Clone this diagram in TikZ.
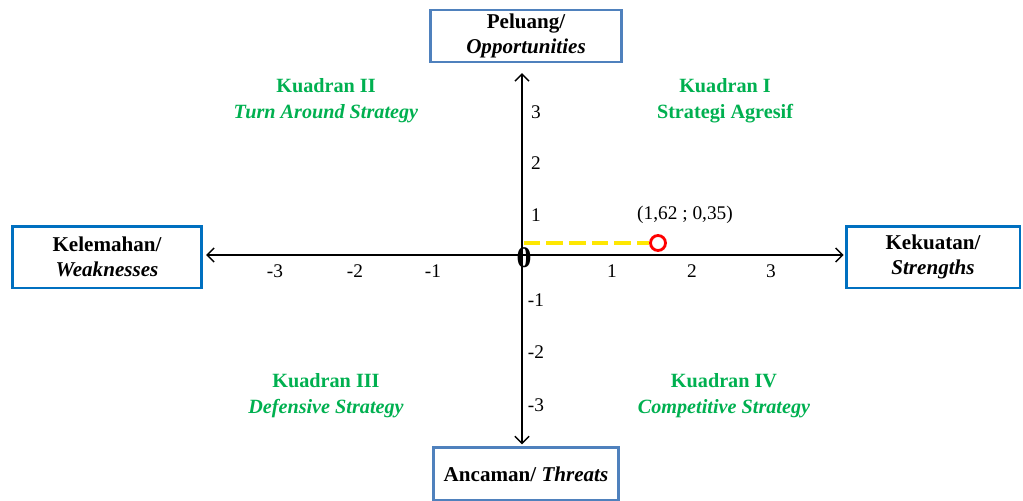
\documentclass[tikz,border=0pt]{standalone}
\usepackage{fontspec}
\setmainfont{Liberation Serif}
\usetikzlibrary{arrows.meta}
\definecolor{kgreen}{RGB}{0,176,80}
\definecolor{boxblue}{RGB}{79,129,189}
\definecolor{sideblue}{RGB}{0,112,192}
\tikzset{
  sbox/.style={draw=boxblue, line width=1.7pt, fill=white, align=center,
    font=\fontsize{12}{14}\selectfont\bfseries, inner sep=0pt},
  axis/.style={thick, {Straight Barb[length=4pt,width=8pt]}-{Straight Barb[length=4pt,width=8pt]}},
  kuad/.style={kgreen, align=center, font=\fontsize{11.5}{14.8}\selectfont\bfseries},
  tick/.style={font=\fontsize{11}{13}\selectfont}
}
\begin{document}
\begin{tikzpicture}[x=0.02cm, y=-0.02cm]
    \useasboundingbox (0,0) rectangle (1023,500);
    \coordinate (o) at (522,255);
    % the four boxes
    \node[sbox, minimum width=3.82cm, minimum height=1.04cm] (opp) at (526,36)
        {Peluang/\\\textit{Opportunities}};
    \node[sbox, draw=sideblue, minimum width=3.8cm, minimum height=1.24cm] (weak) at (107,257)
        {Kelemahan/\\\textit{Weaknesses}};
    \node[sbox, draw=sideblue, minimum width=3.48cm, minimum height=1.24cm] (str) at (933,257)
        {Kekuatan/\\\textit{Strengths}};
    \node[sbox, minimum width=3.72cm, minimum height=1.06cm] (thr) at (526,474)
        {Ancaman/ \textit{Threats}};
    % axes
    \draw[axis, shorten <=1.5pt, shorten >=0.5pt] (weak.east |- o) -- (str.west |- o);
    \draw[axis, shorten <=5.5pt, shorten >=1pt] (opp.south -| o) -- (thr.north -| o);
    \node[font=\fontsize{17}{17}\selectfont\bfseries] (zero) at (524,258) {0};
    \foreach \x/\lbl in {275/-3, 355/-2, 433/-1, 612/1, 692/2, 771/3} {
        \node[tick] at (\x,271) {\lbl};
    }
    \foreach \y/\lbl in {112/3, 163/2, 215/1, 300/-1, 352/-2, 405/-3} {
        \node[tick] at (536,\y) {\lbl};
    }
    % quadrants
    \node[kuad] (q1) at (725,101) {Kuadran I\\Strategi Agresif};
    \node[kuad] (q2) at (326,101) {Kuadran II\\\textit{Turn Around Strategy}};
    \node[kuad] (q3) at (326,396) {Kuadran III\\\textit{Defensive Strategy}};
    \node[kuad] (q4) at (724,396) {Kuadran IV\\\textit{Competitive Strategy}};
    % position
    \node[draw=red, circle, line width=1.6pt, minimum size=0.3cm, inner sep=0pt] (pt) at (658,243) {};
    \draw[yellow!90!orange, line width=2.8pt, dash pattern=on 9.5pt off 3.4pt]
        ([xshift=1pt]o |- pt) -- (pt.west);
    \node[tick] (ptl) at (685,215) {(1,62 ; 0,35)};
\end{tikzpicture}
\end{document}
